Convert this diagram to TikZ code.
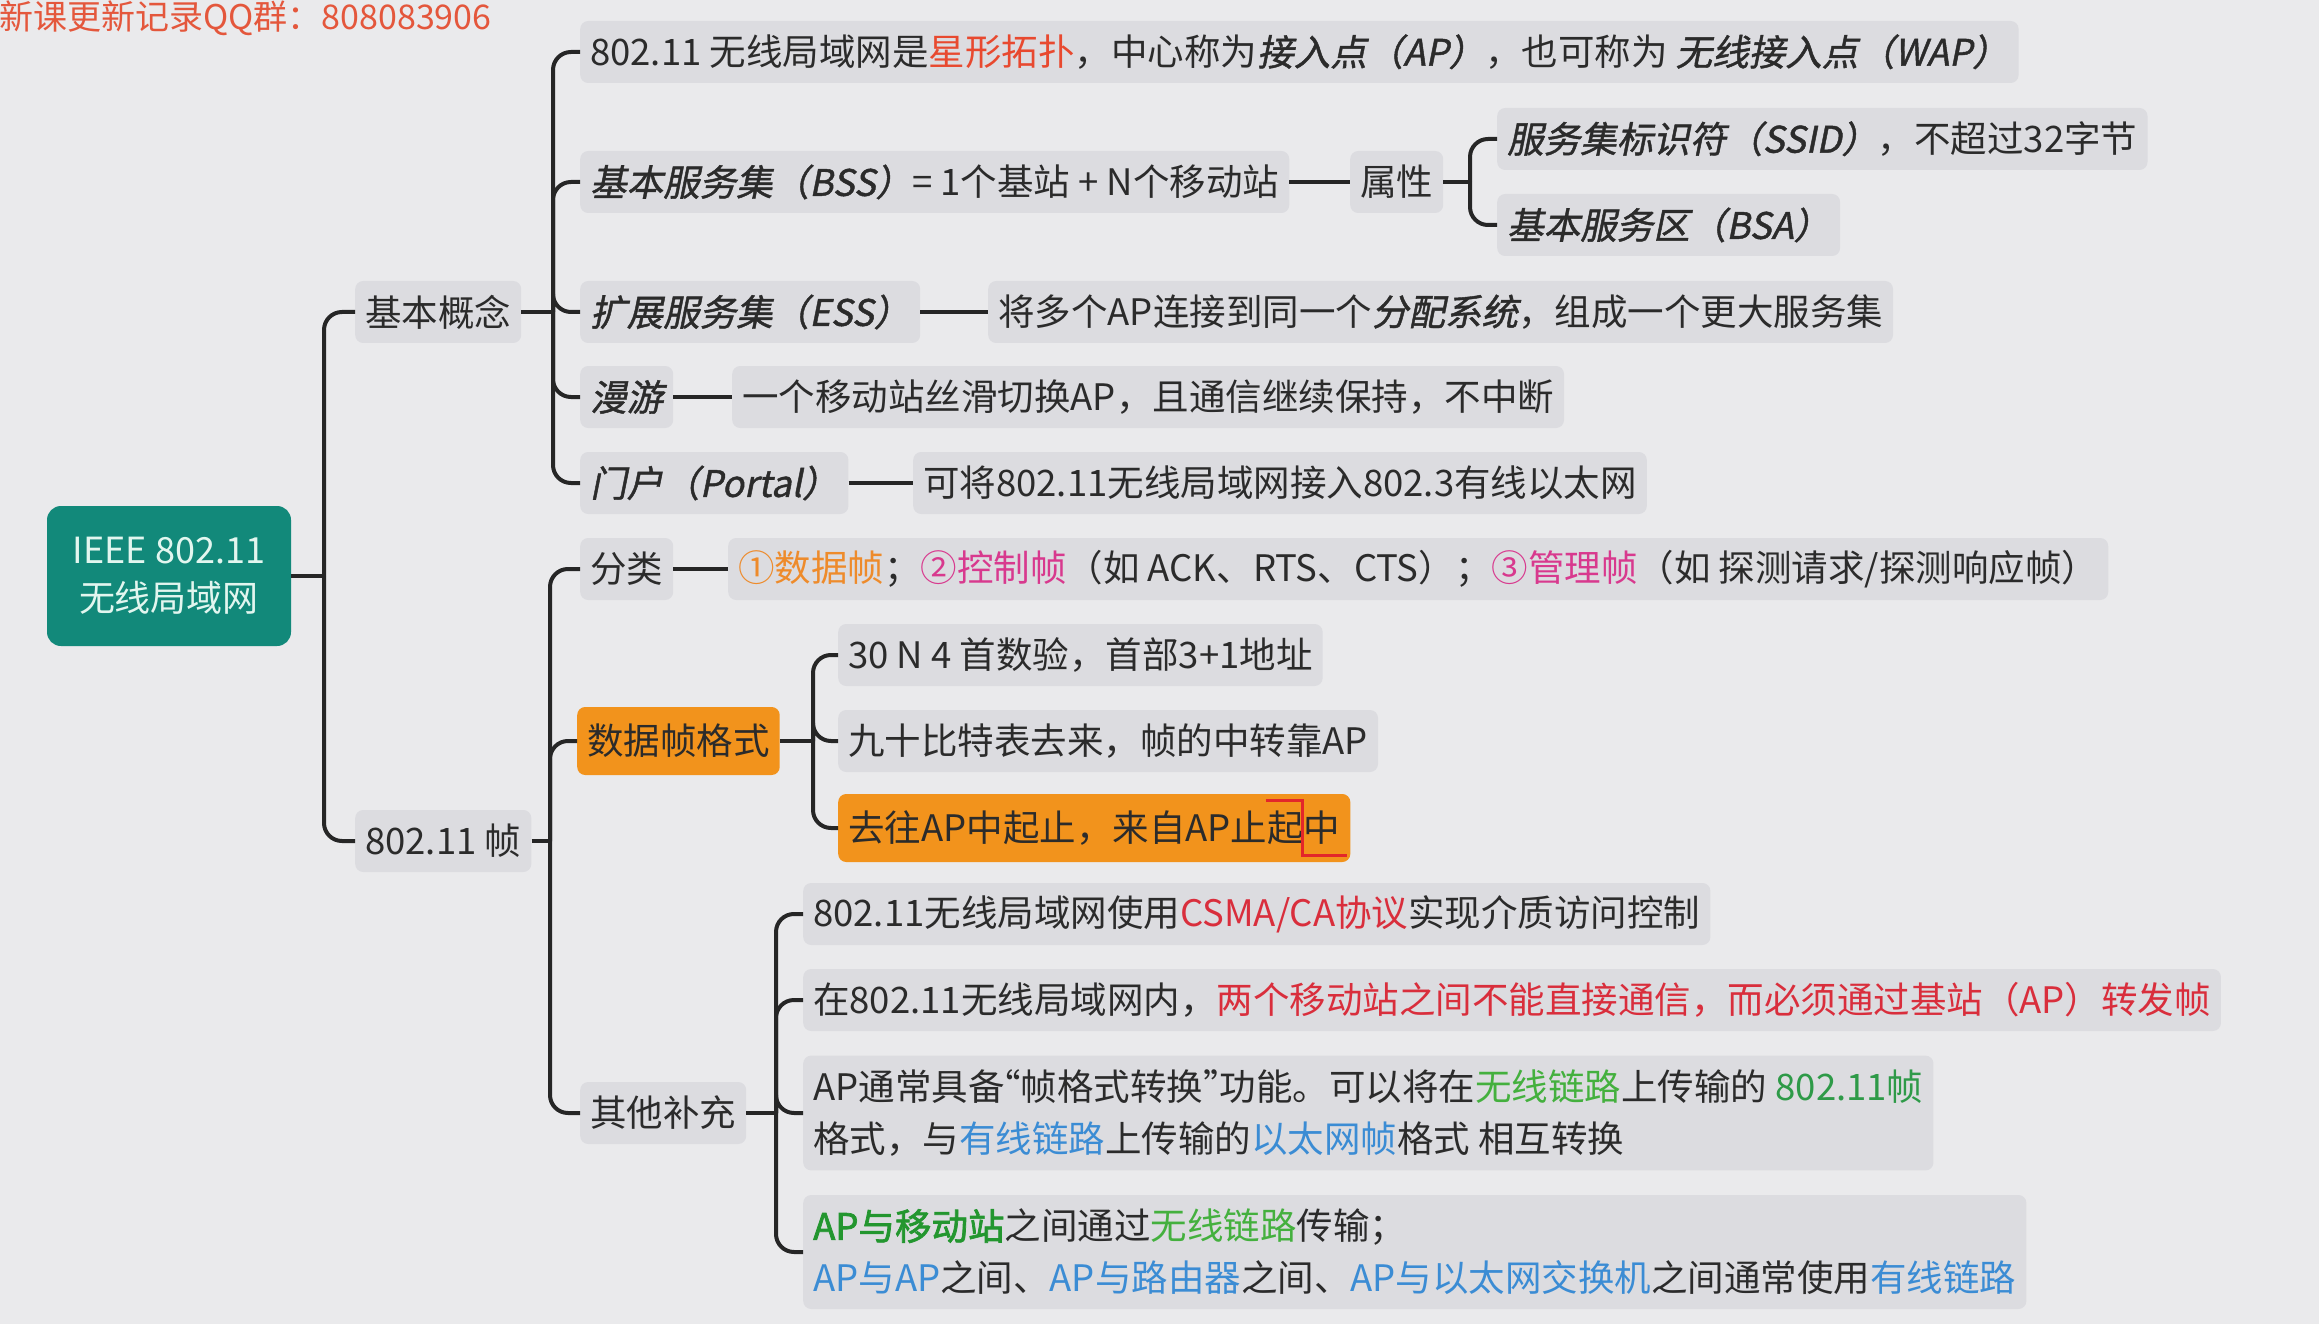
\documentclass[tikz,border=0pt]{standalone}
\usepackage{fontspec}
\setmainfont{Noto Sans CJK SC}
\newfontfamily\slf[FakeSlant=0.2,FakeBold=1.2]{Noto Sans CJK SC}
\newfontfamily\bdf[FakeBold=2]{Noto Sans CJK SC}
\usetikzlibrary{calc}
\definecolor{bgc}{HTML}{EAEAEC}
\definecolor{boxg}{HTML}{DCDCE0}
\definecolor{txt}{HTML}{2B2B2B}
\definecolor{rootc}{HTML}{12897A}
\definecolor{roott}{HTML}{E2F6EF}
\definecolor{orn}{HTML}{F2931C}
\definecolor{wm}{HTML}{E4573C}
\definecolor{redA}{HTML}{E8492F}
\definecolor{redB}{HTML}{D92E3C}
\definecolor{orT}{HTML}{EE8B2B}
\definecolor{pk}{HTML}{D8398E}
\definecolor{grA}{HTML}{44B03E}
\definecolor{grB}{HTML}{2E9A48}
\definecolor{grC}{HTML}{23962F}
\definecolor{blA}{HTML}{3B8CD4}
\definecolor{markc}{HTML}{E3262A}
\newcommand\fs{\fontsize{36.5}{52}\selectfont}
\newcommand\fsr{\fontsize{36}{48}\selectfont}
\newcommand\fsw{\fontsize{34}{38}\selectfont}
\begin{document}
\begin{tikzpicture}[x=1pt,y=-1pt,
  box/.style={fill=boxg, rounded corners=8pt, inner xsep=10pt, inner ysep=0pt,
    minimum height=62pt, anchor=west, text=txt, font=\fs},
  twoline/.style={box, align=left, inner ysep=14pt},
  obox/.style={box, fill=orn, minimum height=68pt},
  rootbox/.style={fill=rootc, rounded corners=14pt, minimum width=244pt,
    minimum height=140pt, align=center, text=roott, font=\fsr},
  conn/.style={draw=black!85, line width=4pt, rounded corners=18pt},
  redmark/.style={draw=markc, line width=3pt}]
\useasboundingbox[fill=bgc] (0,0) rectangle (2319,1324);

\node[anchor=west, inner sep=0pt, text=wm, font=\fsw] (wmk) at (-1,18) {新课更新记录QQ群：808083906};

\node[rootbox] (root) at (169,576) {IEEE 802.11\\无线局域网};

\node[box] (b1) at (355,312) {基本概念};
\node[box] (b2) at (355,841) {802.11 帧};

% basic concepts
\node[box] (c1) at (580,52) {802.11 无线局域网是\textcolor{redA}{星形拓扑}，中心称为{\slf 接入点（AP）}，也可称为 {\slf 无线接入点（WAP）}};
\node[box] (c2) at (580,182) {{\slf 基本服务集（BSS）}= 1个基站 + N个移动站};
\node[box] (c2a) at (1350,182) {属性};
\node[box] (c2a1) at (1497,139) {{\slf 服务集标识符（SSID）}，不超过32字节};
\node[box] (c2a2) at (1497,225) {{\slf 基本服务区（BSA）}};
\node[box] (c3) at (580,312) {{\slf 扩展服务集（ESS）}};
\node[box] (c3a) at (988,312) {将多个AP连接到同一个{\slf 分配系统}，组成一个更大服务集};
\node[box] (c4) at (580,397) {{\slf 漫游}};
\node[box] (c4a) at (732,397) {一个移动站丝滑切换AP，且通信继续保持，不中断};
\node[box] (c5) at (580,483) {{\slf 门户（Portal）}};
\node[box] (c5a) at (913,483) {可将802.11无线局域网接入802.3有线以太网};

% frames
\node[box] (d1) at (580,569) {分类};
\node[box] (d1a) at (728,569) {\textcolor{orT}{①数据帧}；\textcolor{pk}{②控制帧}（如 ACK、RTS、CTS）；\textcolor{pk}{③管理帧}（如 探测请求/探测响应帧）};
\node[obox] (d2) at (577,741) {数据帧格式};
\node[box] (d2a) at (838,655) {30 N 4 首数验，首部3+1地址};
\node[box] (d2b) at (838,741) {九十比特表去来，帧的中转靠AP};
\node[obox] (d2c) at (838,828) {去往AP中起止，来自AP止起中};
\node[box] (d3) at (580,1113) {其他补充};
\node[box] (d3a) at (803,914) {802.11无线局域网使用\textcolor{redB}{CSMA/CA协议}实现介质访问控制};
\node[box] (d3b) at (803,1000) {在802.11无线局域网内，\textcolor{redB}{两个移动站之间不能直接通信，而必须通过基站（AP）转发帧}};
\node[twoline] (d3c) at (803,1113) {AP通常具备\kern-0.55em“帧格式转换”\kern-0.55em功能。可以将在\textcolor{grA}{无线链路}上传输的 \textcolor{grB}{802.11帧}\\格式，与\textcolor{blA}{有线链路}上传输的\textcolor{blA}{以太网帧}格式 相互转换};
\node[twoline] (d3d) at (803,1252) {\textcolor{grC}{\bdf AP与移动站}之间通过\textcolor{grA}{无线链路}传输；\\\textcolor{blA}{AP与AP}之间、\textcolor{blA}{AP与路由器}之间、\textcolor{blA}{AP与以太网交换机}之间通常使用\textcolor{blA}{有线链路}};

% spines
\coordinate (s0) at (324,576);
\coordinate (s1) at (553,312);
\coordinate (s2) at (550,841);
\coordinate (s3) at (813,741);
\coordinate (s4) at (776,1113);
\coordinate (s5) at (1470,182);

\draw[conn] (root.east) -- (s0);
\draw[conn] (s0) |- (b1.west);
\draw[conn] (s0) |- (b2.west);

\draw[conn] (b1.east) -- (s1);
\foreach \n in {c1,c2,c3,c4,c5} \draw[conn] (s1) |- (\n.west);
\draw[conn] (c2.east) -- (c2a.west);
\draw[conn] (c2a.east) -- (s5);
\draw[conn] (s5) |- (c2a1.west);
\draw[conn] (s5) |- (c2a2.west);
\draw[conn] (c3.east) -- (c3a.west);
\draw[conn] (c4.east) -- (c4a.west);
\draw[conn] (c5.east) -- (c5a.west);

\draw[conn] (b2.east) -- (s2);
\foreach \n in {d1,d2,d3} \draw[conn] (s2) |- (\n.west);
\draw[conn] (d1.east) -- (d1a.west);
\draw[conn] (d2.east) -- (s3);
\foreach \n in {d2a,d2b,d2c} \draw[conn] (s3) |- (\n.west);
\draw[conn] (d3.east) -- (s4);
\foreach \n in {d3a,d3b,d3c,d3d} \draw[conn] (s4) |- (\n.west);

% red annotation mark
\coordinate (mk) at ($(d2c.east)+(-48,0)$);
\draw[redmark] ($(mk)+(-37,-28)$) -- ($(mk)+(0,-28)$) -- ($(mk)+(0,27)$) -- ($(mk)+(44,27)$);
\end{tikzpicture}
\end{document}
